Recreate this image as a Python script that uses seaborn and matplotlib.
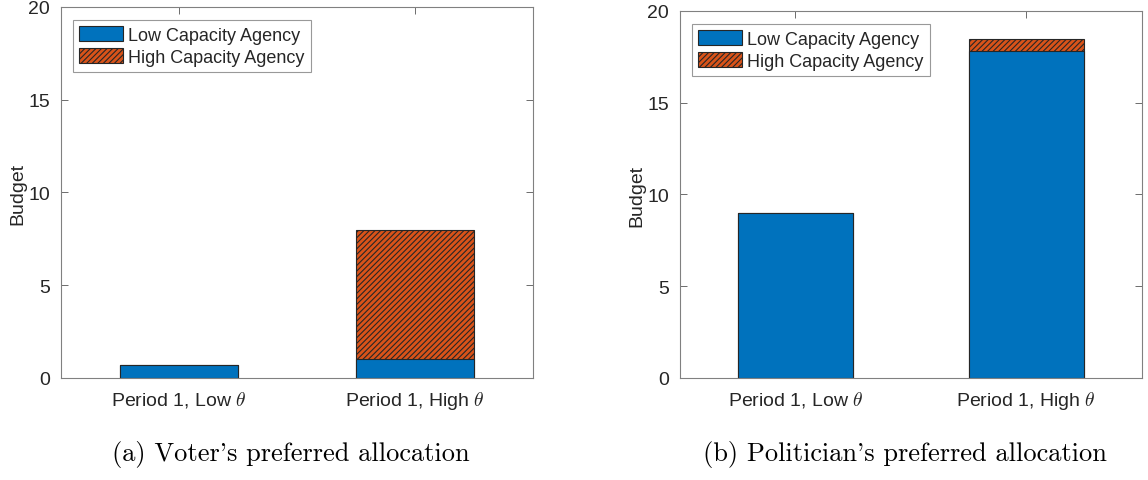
import numpy as np
import pandas as pd
import seaborn as sns
import matplotlib
matplotlib.use("Agg")
import matplotlib.pyplot as plt

# -----------------------------
# data
# -----------------------------
categories = ["Period 1, Low $\\theta$", "Period 1, High $\\theta$"]
voter_low_cap = [0.7, 1.0]
voter_high_cap = [0.0, 7.0]
politician_low_cap = [9.0, 17.8]
politician_high_cap = [0.0, 0.7]
captions = ["(a) Voter's preferred allocation", "(b) Politician's preferred allocation"]

blue = "#0072BD"
orange = "#D95319"
edge = "#262626"

sns.set_theme(style="white")
plt.rcParams['font.family'] = ['Liberation Sans', 'DejaVu Sans']
plt.rcParams['mathtext.fontset'] = 'cm'
plt.rcParams['hatch.linewidth'] = 0.8

fig = plt.figure(figsize=(11.48, 4.81), dpi=100)
ax_a = fig.add_axes([0.0531, 0.2121, 0.4111, 0.7713])
ax_b = fig.add_axes([0.5923, 0.2121, 0.4024, 0.7630])

panels = [(ax_a, voter_low_cap, voter_high_cap, captions[0]),
          (ax_b, politician_low_cap, politician_high_cap, captions[1])]

for ax, low, high, cap in panels:
    df = pd.DataFrame({"cat": categories,
                       "low": low,
                       "total": np.array(low) + np.array(high)})
    # stacked bars: draw total (hatched) then low-capacity on top of it
    sns.barplot(data=df, x="cat", y="total", color=orange, saturation=1,
                width=0.5, edgecolor=edge, linewidth=0.8, hatch="//////",
                label="High Capacity Agency", ax=ax)
    sns.barplot(data=df, x="cat", y="low", color=blue, saturation=1,
                width=0.5, edgecolor=edge, linewidth=0.8,
                label="Low Capacity Agency", ax=ax)

    ax.set_xlim(-0.5, 1.5)
    ax.set_ylim(0, 20)
    ax.set_yticks([0, 5, 10, 15, 20])
    ax.set_xlabel("")
    ax.set_ylabel("Budget", fontsize=14, color="#262626", labelpad=1)
    ax.tick_params(axis="both", which="both", direction="in", length=5,
                   width=0.6, color="#555555", labelsize=14,
                   labelcolor="#262626", top=True, right=True,
                   bottom=True, left=True, pad=8)
    for s in ax.spines.values():
        s.set_color("#808080")
        s.set_linewidth(0.8)

    handles, labels = ax.get_legend_handles_labels()
    order = [labels.index("Low Capacity Agency"), labels.index("High Capacity Agency")]
    leg = ax.legend([handles[i] for i in order], [labels[i] for i in order],
                    loc="upper left", bbox_to_anchor=(0.018, 0.975),
                    fontsize=13, frameon=True, fancybox=False,
                    handlelength=2.4, handleheight=0.9, handletextpad=0.3,
                    labelspacing=0.25, borderpad=0.35, borderaxespad=0.2)
    leg.get_frame().set_edgecolor("#808080")
    leg.get_frame().set_linewidth(0.8)

    pos = ax.get_position()
    fig.text(pos.x0 + pos.width / 2 - 0.005, 0.055, cap, ha="center", va="center",
             fontsize=19, family=['cmr10', 'DejaVu Serif'], color="black")

fig.savefig("out.png", dpi=100)
